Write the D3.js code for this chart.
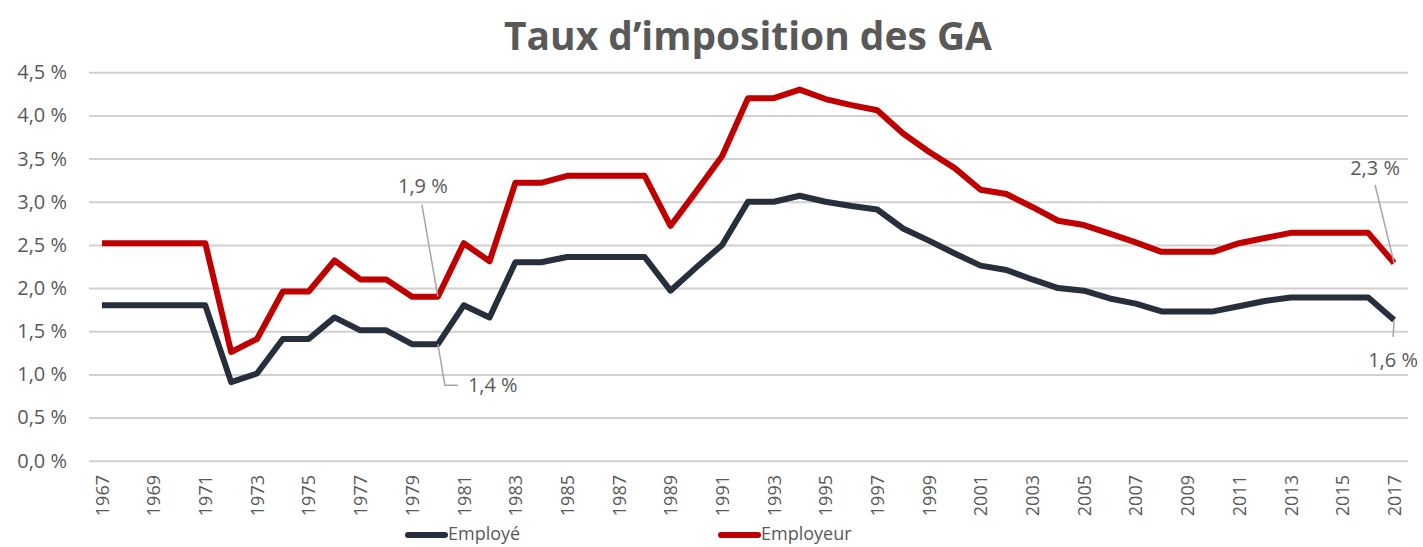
<!DOCTYPE html>
<html>
<head>
<meta charset="utf-8">
<script src="https://cdnjs.cloudflare.com/ajax/libs/d3/7.8.5/d3.min.js"></script>
<style>
  body { margin: 0; background: #fff; overflow: hidden; }
  text { font-family: "Open Sans", sans-serif; fill: #595959; }
</style>
</head>
<body>
<div id="svg-container"></div>
<script>
let w = 1423;
let h = 547;

// data
let years = d3.range(1967, 2018);
let employe = [1.80, 1.80, 1.80, 1.80, 1.80, 0.91, 1.01, 1.41, 1.41, 1.66,
  1.51, 1.51, 1.35, 1.35, 1.80, 1.66, 2.30, 2.30, 2.36, 2.36,
  2.36, 2.36, 1.97, 2.24, 2.50, 3.00, 3.00, 3.07, 3.00, 2.95,
  2.91, 2.69, 2.55, 2.40, 2.26, 2.21, 2.10, 2.00, 1.97, 1.88,
  1.82, 1.73, 1.73, 1.73, 1.79, 1.85, 1.89, 1.89, 1.89, 1.89, 1.63];
let employeur = [2.52, 2.52, 2.52, 2.52, 2.52, 1.26, 1.41, 1.96, 1.96, 2.32,
  2.10, 2.10, 1.90, 1.90, 2.52, 2.31, 3.22, 3.22, 3.30, 3.30,
  3.30, 3.30, 2.72, 3.12, 3.53, 4.20, 4.20, 4.30, 4.19, 4.12,
  4.06, 3.79, 3.58, 3.39, 3.14, 3.09, 2.94, 2.78, 2.73, 2.63,
  2.53, 2.42, 2.42, 2.42, 2.52, 2.58, 2.64, 2.64, 2.64, 2.64, 2.29];
let yTicks = [0, 0.5, 1, 1.5, 2, 2.5, 3, 3.5, 4, 4.5];
let seriesNames = ['Employé', 'Employeur'];
let colors = ['#262F3B', '#C00000'];

let fmt = d => d3.format('.1f')(d).replace('.', ',') + ' %';

let svg = d3.select('#svg-container').
append('svg').
attr('width', w).
attr('height', h).
style('display', 'block');

let x = d3.scalePoint().
domain(years).
range([89, 1407]).
padding(0.5);

let y = d3.scaleLinear().
domain([0, 4.5]).
range([460.7, 72.3]);

// title
let title = svg.append('text').
attr('x', 748).
attr('y', 50).
attr('text-anchor', 'middle').
style('font-weight', 'bold').
style('font-size', '44px').
text('Taux d\u2019imposition des GA');
let tw = title.node().getComputedTextLength();
title.style('font-size', (44 * 488 / tw) + 'px');

// grid
let yAxis = d3.axisLeft(y).
tickValues(yTicks).
tickSize(-(1408 - 89)).
tickPadding(22).
tickFormat(fmt);

let gy = svg.append('g').
attr('transform', 'translate(89,0)').
call(yAxis);
gy.select('.domain').remove();
gy.selectAll('line').attr('stroke', '#D0D0D0').attr('stroke-width', 2);
gy.selectAll('text').style('font-size', '20px').attr('fill', '#595959');

// x axis labels
let xAxis = d3.axisBottom(x).
tickValues(years.filter(d => (d - 1967) % 2 === 0)).
tickSize(0).
tickPadding(0);

let gx = svg.append('g').
attr('transform', 'translate(0,460)').
call(xAxis);
gx.select('.domain').remove();
gx.selectAll('text').
attr('transform', 'rotate(-90)').
attr('x', -15).
attr('y', 0).
attr('dy', '0.35em').
attr('text-anchor', 'end').
style('font-size', '18px').
attr('fill', '#595959');

// lines
let line = d3.line().
x((d, i) => x(years[i])).
y(d => y(d));

[employe, employeur].forEach(function (s, k) {
  svg.append('path').
  attr('d', line(s)).
  attr('fill', 'none').
  attr('stroke', colors[k]).
  attr('stroke-width', 6).
  attr('stroke-linejoin', 'round');
});

// annotations
let lead = '#A6A6A6';
let i80 = years.indexOf(1980);
let iLast = years.length - 1;
let ann = svg.append('g');

// 1,9 %
ann.append('path').
attr('d', 'M' + (x(1980) - 16) + ',' + (y(employeur[i80]) - 92) + 'L' + x(1980) + ',' + y(employeur[i80])).
attr('stroke', lead).attr('stroke-width', 1.5).attr('fill', 'none');
ann.append('text').
attr('x', x(1980) - 15).attr('y', y(employeur[i80]) - 104).
attr('text-anchor', 'middle').style('font-size', '20px').
text(fmt(employeur[i80]));

// 1,4 %
ann.append('path').
attr('d', 'M' + x(1980) + ',' + y(employe[i80]) + 'L' + (x(1980) + 7) + ',' + (y(employe[i80]) + 41) + 'L' + (x(1980) + 20) + ',' + (y(employe[i80]) + 41)).
attr('stroke', lead).attr('stroke-width', 1.5).attr('fill', 'none');
ann.append('text').
attr('x', x(1980) + 30).attr('y', y(employe[i80]) + 48).
attr('text-anchor', 'start').style('font-size', '20px').
text(fmt(employe[i80]));

// 2,3 %
ann.append('path').
attr('d', 'M' + (x(2017) - 19) + ',' + (y(employeur[iLast]) - 78) + 'L' + x(2017) + ',' + y(employeur[iLast])).
attr('stroke', lead).attr('stroke-width', 1.5).attr('fill', 'none');
ann.append('text').
attr('x', x(2017) - 19).attr('y', y(employeur[iLast]) - 88).
attr('text-anchor', 'middle').style('font-size', '20px').
text(fmt(employeur[iLast]));

// 1,6 %
ann.append('path').
attr('d', 'M' + x(2017) + ',' + y(employe[iLast]) + 'L' + (x(2017) - 1) + ',' + (y(employe[iLast]) + 17)).
attr('stroke', lead).attr('stroke-width', 1.5).attr('fill', 'none');
ann.append('text').
attr('x', x(2017) - 1).attr('y', y(employe[iLast]) + 47).
attr('text-anchor', 'middle').style('font-size', '20px').
text(fmt(employe[iLast]));

// legend
let legendX = [405, 718];
let legend = svg.append('g');
seriesNames.forEach(function (n, k) {
  legend.append('line').
  attr('x1', legendX[k] + 3).attr('x2', legendX[k] + 40).
  attr('y1', 535).attr('y2', 535).
  attr('stroke', colors[k]).attr('stroke-width', 6).
  attr('stroke-linecap', 'round');
  legend.append('text').
  attr('x', legendX[k] + 43).attr('y', 540).
  style('font-size', '18px').
  text(n);
});
</script>
</body>
</html>
